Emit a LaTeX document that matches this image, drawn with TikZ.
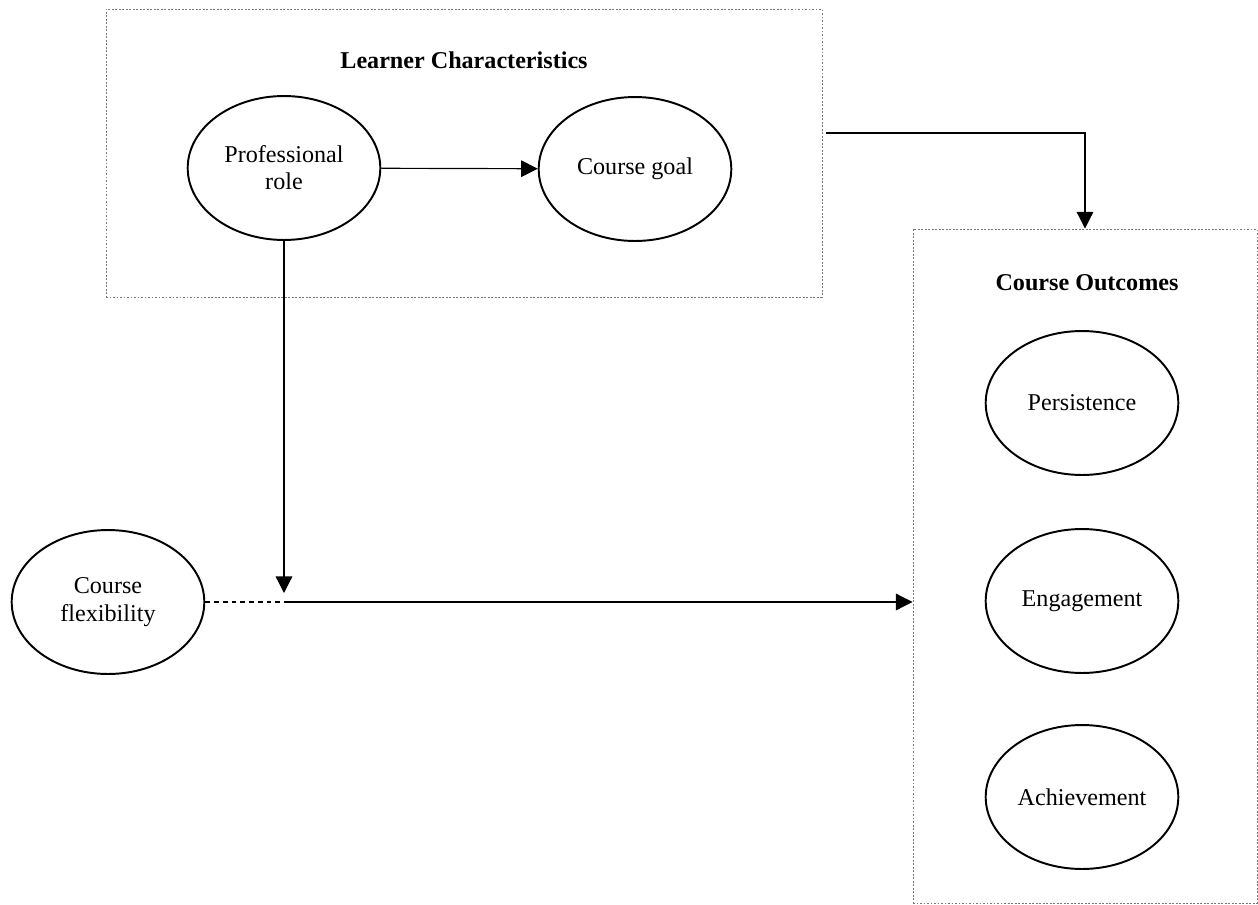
\documentclass[tikz,border=0pt]{standalone}
\usepackage{fontspec}
\setmainfont{Liberation Serif}
\usetikzlibrary{shapes.geometric,arrows.meta,fit,calc}
\definecolor{boxgray}{RGB}{120,120,120}

\tikzset{
  construct/.style={ellipse, draw, line width=1pt, inner sep=0pt,
    minimum width=99pt, minimum height=74pt, align=center, font=\fontsize{12.4}{14}\selectfont},
  groupbox/.style={draw=boxgray, line width=0.5pt, dash pattern=on 1pt off 0.8pt, inner sep=0pt},
  grouptitle/.style={font=\fontsize{12.4}{14}\selectfont\bfseries},
  conn/.style={line width=0.6pt, -{Triangle[length=8.5pt,width=8.5pt]}},
}

\begin{document}
\begin{tikzpicture}[x=0.514pt, y=-0.514pt]
    \useasboundingbox (0,0) rectangle (1258,905);

    % Learner characteristics
    \node[groupbox, fit={(106,9) (822,297)}] (learner) {};
    \node[grouptitle] (learnertitle) at (464,60) {Learner Characteristics};
    \node[construct] (role) at (284,168) {Professional\\role};
    \node[construct] (goal) at (635,169) {Course goal};

    % Course outcomes
    \node[groupbox, fit={(913,229) (1257,903)}] (outcomes) {};
    \node[grouptitle] (outcomestitle) at (1087,283) {Course Outcomes};
    \node[construct] (persist) at (1082,403) {Persistence};
    \node[construct] (engage) at (1082,601) {Engagement};
    \node[construct] (achieve) at (1082,797) {Achievement};

    % Course flexibility
    \node[construct] (flex) at (108,602) {Course\\flexibility};
    \coordinate (junction) at (role.south |- flex.east);

    % Paths
    \draw[conn] (role) -- (goal);
    \draw[conn] ([shift={(4,-20)}]learner.east) -| (outcomes.north);
    \draw[conn] (role.south) -- ([shift={(0,-9)}]junction);
    \draw[line width=0.6pt, dash pattern=on 2.5pt off 2pt] (flex.east) -- (junction);
    \draw[conn] (junction) -- (outcomes.west |- junction);
\end{tikzpicture}
\end{document}
